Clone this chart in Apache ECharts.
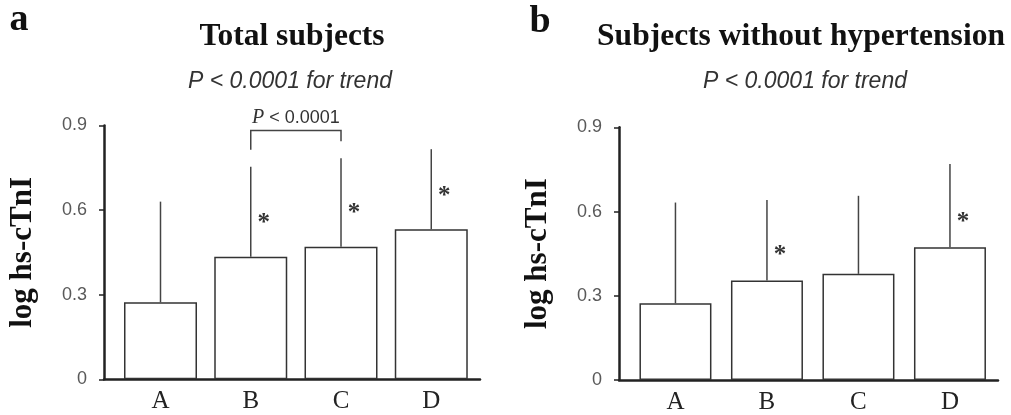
<!DOCTYPE html>
<html><head><meta charset="utf-8">
<script src="https://cdn.jsdelivr.net/npm/echarts@6/dist/echarts.min.js"></script>
<style>html,body{margin:0;padding:0;background:#fff}#c{width:1011px;height:415px}</style>
</head><body><div id="c"></div>
<script>
// ---- data ----
const categories = ['A', 'B', 'C', 'D'];
const totalMeans = [0.273, 0.435, 0.470, 0.532];
const totalSD = [0.357, 0.319, 0.314, 0.284];
const totalSig = [false, true, true, true];
const noHtnMeans = [0.273, 0.354, 0.378, 0.473];
const noHtnSD = [0.359, 0.287, 0.278, 0.296];
const noHtnSig = [false, true, false, true];
const panelLetters = ['a', 'b'];
const panelTitles = ['Total subjects', 'Subjects without hypertension'];
const trendText = 'P < 0.0001 for trend';
const totalComparisons = [[1, 2, 'P < 0.0001']];
const yName = 'log hs-cTnI';
const yMax = 0.9;
const yInterval = 0.3;

// ---- layout / style ----
const SERIF = '"Liberation Serif","Times New Roman",serif';
const SANS = '"Liberation Sans",Arial,sans-serif';
const panels = [
  { means: totalMeans, sd: totalSD, sig: totalSig, comps: totalComparisons,
    left: 104, right: 531, top: 125.5, bottom: 35.7, xmin: -0.626, xmax: 3.54, barWidth: 73, starDx: 13, starDy: -33,
    letterX: 19, letterY: 20, titleX: 292, subX: 290 },
  { means: noHtnMeans, sd: noHtnSD, sig: noHtnSig, comps: [],
    left: 619, right: 13, top: 127.3, bottom: 35, xmin: -0.617, xmax: 3.525, barWidth: 72, starDx: 13, starDy: -25,
    letterX: 540, letterY: 22, titleX: 801, subX: 805 }
];

const grid = [], xAxis = [], yAxis = [], series = [], graphic = [];
panels.forEach((p, k) => {
  grid.push({ left: p.left, right: p.right, top: p.top, bottom: p.bottom, containLabel: false });
  xAxis.push({
    type: 'value', gridIndex: k, min: p.xmin, max: p.xmax,
    axisLine: { show: true, onZero: false, lineStyle: { color: '#222', width: 2.5 } },
    axisTick: { show: false }, splitLine: { show: false },
    axisLabel: { customValues: categories.map((c, i) => i), formatter: v => categories[Math.round(v)] || '',
      fontFamily: SERIF, fontSize: 25, color: '#222', margin: 10 }
  });
  yAxis.push({
    type: 'value', gridIndex: k, min: 0, max: yMax, interval: yInterval,
    name: yName, nameLocation: 'middle', nameGap: 66,
    nameTextStyle: { fontFamily: SERIF, fontSize: 31, fontWeight: 'bold', color: '#111' },
    axisLine: { show: true, onZero: false, lineStyle: { color: '#222', width: 2.5 } },
    axisTick: { show: true, length: 5, lineStyle: { color: '#222', width: 1.5 } },
    splitLine: { show: false },
    axisLabel: { formatter: v => v === 0 ? '0' : v.toFixed(1), fontFamily: SANS, fontSize: 18, color: '#595959', margin: 17 }
  });
  series.push({
    type: 'bar', xAxisIndex: k, yAxisIndex: k, barWidth: p.barWidth,
    data: p.means.map((m, i) => [i, m]),
    itemStyle: { color: '#fff', borderColor: '#333', borderWidth: 1.5 },
    silent: true, z: 2
  });
  series.push({
    type: 'custom', xAxisIndex: k, yAxisIndex: k, z: 3, silent: true,
    data: p.means.map((m, i) => [i, m, m + p.sd[i]]),
    renderItem: (params, api) => {
      const a = api.coord([api.value(0), api.value(1)]);
      const b = api.coord([api.value(0), api.value(2)]);
      return { type: 'line', shape: { x1: a[0], y1: a[1], x2: b[0], y2: b[1] },
        style: { stroke: '#444', lineWidth: 1.5 } };
    }
  });
  series.push({
    type: 'custom', xAxisIndex: k, yAxisIndex: k, z: 4, silent: true,
    data: p.means.map((m, i) => [i, m]).filter((d, i) => p.sig[i]),
    renderItem: (params, api) => {
      const a = api.coord([api.value(0), api.value(1)]);
      return { type: 'text', x: a[0] + p.starDx, y: a[1] + p.starDy,
        style: { text: '*', font: 'bold 25px ' + SERIF, fill: '#333', align: 'center', verticalAlign: 'middle' } };
    }
  });
  if (p.comps.length) {
    series.push({
      type: 'custom', xAxisIndex: k, yAxisIndex: k, z: 4, silent: true, clip: false,
      data: p.comps.map(c => [c[0], c[1]]),
      renderItem: (params, api) => {
        const i = api.value(0), j = api.value(1);
        const c = p.comps[params.dataIndex];
        const pa = api.coord([i, p.means[i] + p.sd[i]]);
        const pb = api.coord([j, p.means[j] + p.sd[j]]);
        const topY = Math.min(pa[1], pb[1]) - 27.6;
        const label = c[2].replace(/^P/, '{i|P}');
        return { type: 'group', children: [
          { type: 'polyline', shape: { points: [[pa[0], pa[1] - 17], [pa[0], topY], [pb[0], topY], [pb[0], pb[1] - 17]] },
            style: { stroke: '#444', lineWidth: 1.5, fill: null } },
          { type: 'text', x: (pa[0] + pb[0]) / 2, y: topY - 12.4,
            style: { text: label, font: '18px ' + SANS, fill: '#333', align: 'center', verticalAlign: 'middle',
              rich: { i: { fontFamily: SERIF, fontStyle: 'italic', fontSize: 20, fill: '#333' } } } }
        ] };
      }
    });
  }
  graphic.push({ type: 'text', x: p.letterX, y: p.letterY,
    style: { text: panelLetters[k], font: 'bold 38px ' + SERIF, fill: '#111', align: 'center', verticalAlign: 'middle' } });
  graphic.push({ type: 'text', x: p.titleX, y: 37,
    style: { text: panelTitles[k], font: 'bold 31.5px ' + SERIF, fill: '#111', align: 'center', verticalAlign: 'middle' } });
  graphic.push({ type: 'text', x: p.subX, y: 82,
    style: { text: trendText, font: 'italic 23px ' + SANS, fill: '#333', align: 'center', verticalAlign: 'middle' } });
});

const chart = echarts.init(document.getElementById('c'), null, { renderer: 'canvas' });
chart.setOption({ animation: false, backgroundColor: '#fff', grid, xAxis, yAxis, series, graphic });
</script></body></html>
